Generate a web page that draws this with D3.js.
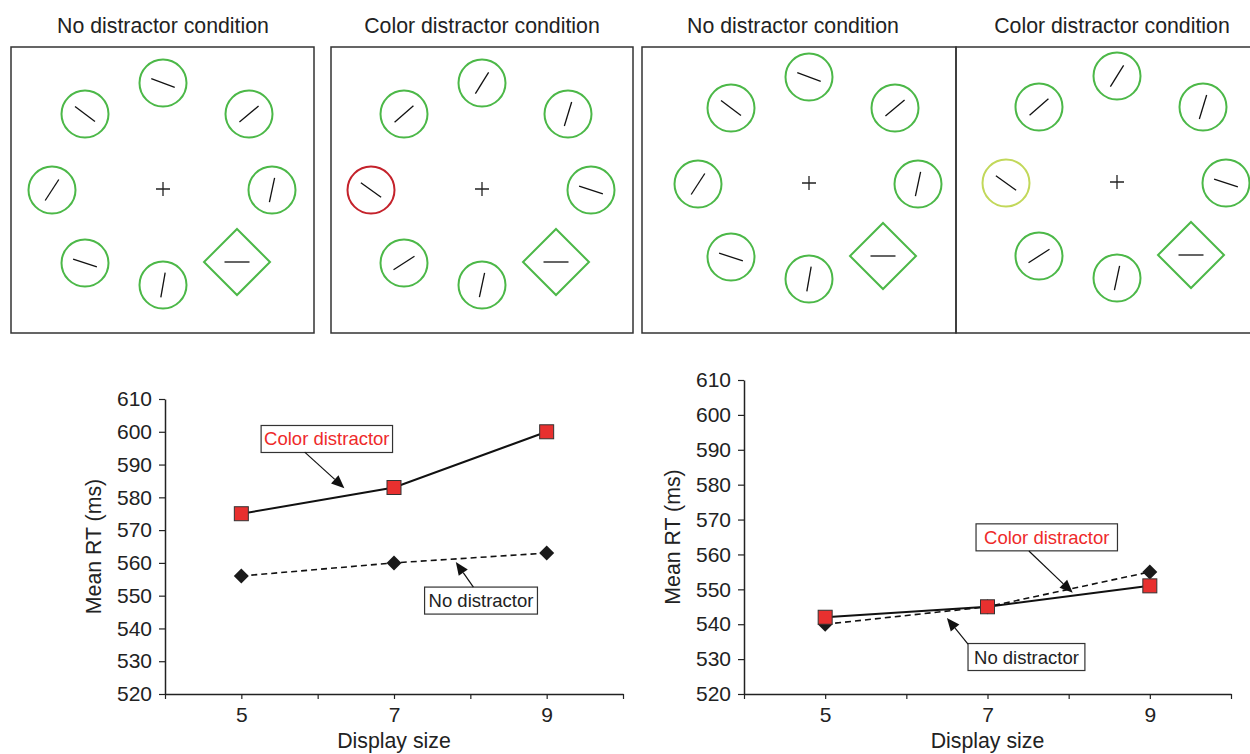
<!DOCTYPE html>
<html>
<head>
<meta charset="utf-8">
<script src="https://cdn.jsdelivr.net/npm/d3@7"></script>
<style>
  body { margin: 0; background: #fff; }
  svg { display: block; font-family: "Liberation Sans", Arial, Helvetica, sans-serif; }
</style>
</head>
<body>
<div id="chart"></div>
<script>
// ---- data ----
var panelTitles = ["No distractor condition", "Color distractor condition", "No distractor condition", "Color distractor condition"];
// line orientation (deg) in each of the 8 slots: top, upper-right, right, diamond, bottom, lower-left, left, upper-left
var noDistractorAngles = [20, -40, -78, 0, -80, 18, -57, 37];
var colorDistractorAngles = [-58, -73, 18, 0, -78, -33, 36, -41];
var slotColorsNone = ["green", "green", "green", "green", "green", "green", "green", "green"];
var slotColorsRed = ["green", "green", "green", "green", "green", "green", "red", "green"];
var slotColorsYellow = ["green", "green", "green", "green", "green", "green", "yellow", "green"];

var displaySizes = [5, 7, 9];
var xTicks = [4, 5, 6, 7, 8, 9, 10];
var xTickLabels = [5, 7, 9];
var yTicks = [520, 530, 540, 550, 560, 570, 580, 590, 600, 610];

var leftColor = [575, 583, 600];
var leftNone = [556, 560, 563];
var rightColor = [542, 545, 551];
var rightNone = [540, 545, 555];

// ---- layout ----
var W = 1250, H = 754;
var svg = d3.select("#chart").append("svg").attr("width", W).attr("height", H);

var strokeColors = { green: "#4cb848", red: "#c4222b", yellow: "#c2d85a" };
var slotOffsets = [[0, -106], [86, -75], [109, 1], [74, 73], [0, 96], [-78, 74], [-111, 1], [-78, -75]];

var panels = [
  { x0: 11, x1: 314, cx: 163, cy: 189, tx: 163, angles: noDistractorAngles, colors: slotColorsNone, title: panelTitles[0] },
  { x0: 331, x1: 633, cx: 482, cy: 189, tx: 482, angles: colorDistractorAngles, colors: slotColorsRed, title: panelTitles[1] },
  { x0: 642, x1: 956, cx: 809, cy: 183, tx: 793, angles: noDistractorAngles, colors: slotColorsNone, title: panelTitles[2] },
  { x0: 956, x1: 1256, cx: 1117, cy: 182, tx: 1112, angles: colorDistractorAngles, colors: slotColorsYellow, title: panelTitles[3] }
];

panels.forEach(function(p) {
  var g = svg.append("g");
  g.append("rect")
    .attr("x", p.x0).attr("y", 47)
    .attr("width", p.x1 - p.x0).attr("height", 286)
    .attr("fill", "none").attr("stroke", "#333").attr("stroke-width", 1.5);
  g.append("text")
    .attr("x", p.tx).attr("y", 33)
    .attr("text-anchor", "middle")
    .attr("font-size", 21.3).attr("fill", "#222")
    .text(p.title);

  // fixation cross
  g.append("path")
    .attr("d", "M" + (p.cx - 7) + "," + p.cy + "H" + (p.cx + 7) + "M" + p.cx + "," + (p.cy - 7) + "V" + (p.cy + 7))
    .attr("stroke", "#222").attr("stroke-width", 1.3);

  p.angles.forEach(function(a, i) {
    var sx = p.cx + slotOffsets[i][0], sy = p.cy + slotOffsets[i][1];
    if (i === 3) {
      var r = 33;
      g.append("path")
        .attr("d", "M" + sx + "," + (sy - r) + "L" + (sx + r) + "," + sy + "L" + sx + "," + (sy + r) + "L" + (sx - r) + "," + sy + "Z")
        .attr("fill", "none").attr("stroke", strokeColors.green).attr("stroke-width", 2);
    } else {
      g.append("circle")
        .attr("cx", sx).attr("cy", sy).attr("r", 23.5)
        .attr("fill", "none").attr("stroke", strokeColors[p.colors[i]]).attr("stroke-width", 2);
    }
    var rad = a * Math.PI / 180, L = 12.5;
    g.append("line")
      .attr("x1", sx - L * Math.cos(rad)).attr("y1", sy - L * Math.sin(rad))
      .attr("x2", sx + L * Math.cos(rad)).attr("y2", sy + L * Math.sin(rad))
      .attr("stroke", "#111").attr("stroke-width", 1.3);
  });
});

// ---- charts ----
function drawChart(opt) {
  var x = d3.scaleLinear().domain([4, 10]).range([opt.left, opt.right]);
  var y = d3.scaleLinear().domain([520, 610]).range([opt.bottom, opt.top]);
  var g = svg.append("g");

  // Y axis
  var ya = g.append("g")
    .attr("transform", "translate(" + opt.left + ",0)")
    .call(d3.axisLeft(y).tickValues(yTicks).tickSize(6).tickSizeOuter(0).tickPadding(7));
  // X axis
  var xa = g.append("g")
    .attr("transform", "translate(0," + opt.bottom + ")")
    .call(d3.axisBottom(x).tickValues(xTicks).tickSize(5).tickSizeOuter(0).tickPadding(8)
      .tickFormat(function(d) { return xTickLabels.indexOf(d) >= 0 ? d : ""; }));
  [ya, xa].forEach(function(a) {
    a.select(".domain").attr("stroke", "#222").attr("stroke-width", 1.5);
    a.selectAll(".tick line").attr("stroke", "#222").attr("stroke-width", 1.2);
    a.selectAll(".tick text").attr("font-size", 21).attr("fill", "#222")
      .attr("font-family", "Liberation Sans, Arial, sans-serif");
  });

  g.append("text")
    .attr("x", (opt.left + opt.right) / 2).attr("y", 748)
    .attr("text-anchor", "middle").attr("font-size", 21.3).attr("fill", "#222")
    .text("Display size");
  g.append("text")
    .attr("transform", "translate(" + (opt.left - 64) + "," + ((opt.top + opt.bottom) / 2) + ")rotate(-90)")
    .attr("text-anchor", "middle").attr("font-size", 21.3).attr("fill", "#222")
    .text("Mean RT (ms)");

  var line = d3.line().x(function(d, i) { return x(displaySizes[i]); }).y(function(d) { return y(d); });

  g.append("path").datum(opt.none)
    .attr("d", line).attr("fill", "none")
    .attr("stroke", "#111").attr("stroke-width", 1.6).attr("stroke-dasharray", "6,4");
  g.append("path").datum(opt.color)
    .attr("d", line).attr("fill", "none")
    .attr("stroke", "#111").attr("stroke-width", 2);

  g.selectAll(".dia").data(opt.none).enter().append("path")
    .attr("d", function(d, i) {
      var cx = x(displaySizes[i]), cy = y(d), r = 7.5;
      return "M" + cx + "," + (cy - r) + "L" + (cx + r) + "," + cy + "L" + cx + "," + (cy + r) + "L" + (cx - r) + "," + cy + "Z";
    })
    .attr("fill", "#1a1a1a");
  g.selectAll(".sq").data(opt.color).enter().append("rect")
    .attr("x", function(d, i) { return x(displaySizes[i]) - 7; })
    .attr("y", function(d) { return y(d) - 7; })
    .attr("width", 14).attr("height", 14)
    .attr("fill", "#e8302f").attr("stroke", "#333").attr("stroke-width", 1);

  opt.notes.forEach(function(n) {
    var bx = x(n.box[0]), by = y(n.box[1]);
    var t = g.append("text")
      .attr("x", bx).attr("y", by + 6.5)
      .attr("text-anchor", "middle").attr("font-size", 18.5)
      .attr("fill", n.red ? "#ee2a2a" : "#222")
      .text(n.label);
    var w = t.node().getComputedTextLength() + n.pad * 2;
    g.insert("rect", function() { return t.node(); })
      .attr("x", bx - w / 2).attr("y", by - 13.5)
      .attr("width", w).attr("height", 27)
      .attr("fill", "#fff").attr("stroke", "#333").attr("stroke-width", 1.2);

    var x1 = x(n.from[0]), y1 = y(n.from[1]), x2 = x(n.to[0]), y2 = y(n.to[1]);
    var ang = Math.atan2(y2 - y1, x2 - x1), hl = 13, hw = 5.5;
    var bxh = x2 - hl * Math.cos(ang), byh = y2 - hl * Math.sin(ang);
    g.append("line")
      .attr("x1", x1).attr("y1", y1).attr("x2", bxh).attr("y2", byh)
      .attr("stroke", "#111").attr("stroke-width", 1.2);
    g.append("path")
      .attr("d", "M" + x2 + "," + y2 +
        "L" + (bxh + hw * Math.sin(ang)) + "," + (byh - hw * Math.cos(ang)) +
        "L" + (bxh - hw * Math.sin(ang)) + "," + (byh + hw * Math.cos(ang)) + "Z")
      .attr("fill", "#111");
  });
}

drawChart({
  left: 165, right: 623, top: 399, bottom: 694,
  color: leftColor, none: leftNone,
  notes: [
    { label: "Color distractor", red: true, box: [6.12, 597.8], from: [5.83, 593.8], to: [6.35, 582.8], pad: 3 },
    { label: "No distractor", red: false, box: [8.14, 548.5], from: [8.04, 552.6], to: [7.81, 560.3], pad: 4 }
  ]
});
drawChart({
  left: 744, right: 1231, top: 380, bottom: 694,
  color: rightColor, none: rightNone,
  notes: [
    { label: "Color distractor", red: true, box: [7.73, 564.9], from: [7.51, 561.0], to: [8.05, 549.0], pad: 8 },
    { label: "No distractor", red: false, box: [7.48, 530.6], from: [6.76, 534.3], to: [6.50, 541.8], pad: 6 }
  ]
});
</script>
</body>
</html>
